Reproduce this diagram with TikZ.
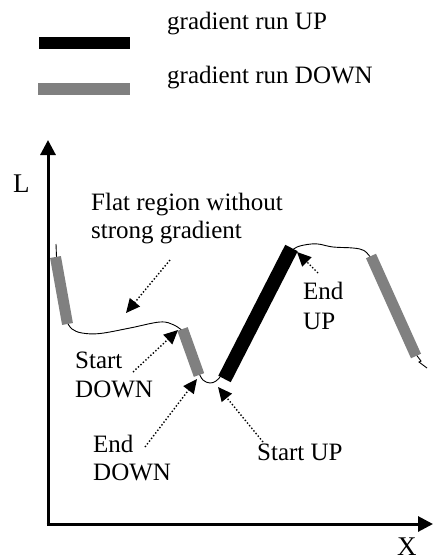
\documentclass[tikz,border=0pt]{standalone}
\usepackage{fontspec}
\setmainfont{Liberation Serif}
\usetikzlibrary{arrows.meta}
\definecolor{rungrey}{HTML}{808080}
\begin{document}
\begin{tikzpicture}[x=1pt,y=-1pt,
  lbl/.style={anchor=base west,inner sep=0pt,font=\fontsize{25}{29}\selectfont},
  axislbl/.style={anchor=base west,inner sep=0pt,font=\fontsize{27}{30}\selectfont},
  axis/.style={line width=3pt,-{Triangle[length=15pt,width=15pt]}},
  uprun/.style={line width=14pt,line cap=butt,black},
  downrun/.style={line width=11pt,line cap=butt,rungrey},
  trace/.style={line width=0.9pt},
  pointer/.style={line width=1.4pt,dotted,-{Triangle[length=14pt,width=13pt]}}]
\useasboundingbox (0,0) rectangle (433,560);
% legend
\draw[line width=12pt,black] (39,43) -- (130,43);
\draw[line width=12pt,rungrey] (38,89) -- (130,89);
\node[lbl] (legup) at (167,29) {gradient run UP};
\node[lbl] (legdown) at (167,83) {gradient run DOWN};
% axes
\coordinate (origin) at (48,524);
\coordinate (ytip) at (48,140);
\coordinate (xtip) at (433,524);
\draw[axis] (48,525.5) -- (ytip);
\draw[axis] (46.5,524) -- (xtip);
\node[axislbl] (L) at (13,192) {L};
\node[axislbl] (X) at (397,555) {X};
% trace
\draw[trace] (56,244) -- (56.5,257);
\draw[trace] plot[smooth,tension=0.6] coordinates {(67,322) (72,329) (82,333) (100,333.5) (130,328) (160,322) (174,325) (184,332)};
\draw[trace] plot[smooth,tension=0.7] coordinates {(199,373) (203,380) (210,383) (216,381) (220,377)};
\draw[trace] plot[smooth,tension=0.6] coordinates {(291,251) (297,247) (307,244.5) (318,244) (333,247) (353,248) (364,250.5) (371,258)};
\draw[trace] (415,353) -- (421,361) -- (419,362) -- (427,368);
% runs
\draw[downrun] (55.5,257) -- (67.5,324);
\draw[downrun] (182.5,329) -- (199,375);
\draw[uprun] (224.5,379) -- (291.5,248);
\draw[downrun] (371,256) -- (416,356);
% labels
\node[lbl] (flat1) at (91,210) {Flat region without};
\node[lbl] (flat2) at (91,238) {strong gradient};
\node[lbl] (sd1) at (75,368) {Start};
\node[lbl] (sd2) at (75,397) {DOWN};
\node[lbl] (ed1) at (93,452) {End};
\node[lbl] (ed2) at (93,480) {DOWN};
\node[lbl] (su) at (257,460) {Start UP};
\node[lbl] (eu1) at (303,299) {End};
\node[lbl] (eu2) at (303,329) {UP};
% pointers
\coordinate (flatfrom) at (170,260);
\coordinate (flatto) at (126,313);
\coordinate (sdfrom) at (133,372);
\coordinate (sdto) at (178,330);
\coordinate (edfrom) at (145,447);
\coordinate (edto) at (197,379);
\coordinate (sufrom) at (263,442);
\coordinate (suto) at (218,387);
\coordinate (eufrom) at (318,273);
\coordinate (euto) at (297,252);
\draw[pointer] (flatfrom) -- (flatto);
\draw[pointer] (sdfrom) -- (sdto);
\draw[pointer] (edfrom) -- (edto);
\draw[pointer] (sufrom) -- (suto);
\draw[pointer] (eufrom) -- (euto);
\end{tikzpicture}
\end{document}
